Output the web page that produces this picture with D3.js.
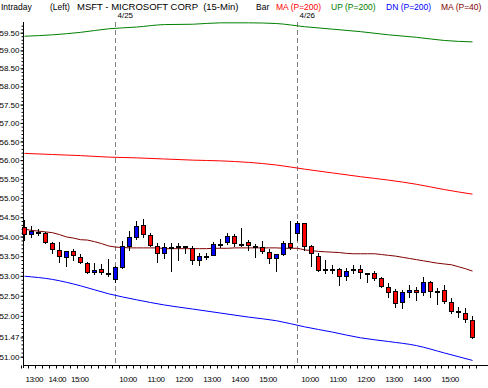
<!DOCTYPE html>
<html>
<head>
<meta charset="utf-8">
<script src="https://cdn.jsdelivr.net/npm/d3@7"></script>
<style>
body { margin: 0; background: #fff; }
svg { display: block; }
</style>
</head>
<body>
<svg id="chart" width="488" height="388"></svg>
<script>
// MSFT 15-min bars, 4/24 12:45 -> 4/26 15:45
var open  = [54.24,54.07,54.13,54.09,53.83,53.66,53.48,53.62,53.49,53.32,53.09,53.17,53.07,
             52.91,53.23,53.75,54.00,54.30,54.05,53.75,53.58,53.73,53.75,53.76,53.71,53.41,53.51,53.53,53.82,53.85,54.02,53.82,53.85,53.76,53.73,53.61,53.44,53.55,53.83,
             54.09,54.35,53.75,53.51,53.17,53.17,53.17,53.00,53.17,53.17,53.07,53.07,52.94,52.72,52.61,52.34,52.59,52.65,52.59,52.84,52.63,52.65,52.34,52.13,52.06,51.90];
var high  = [54.43,54.26,54.20,54.12,53.87,53.86,53.63,53.68,53.55,53.35,53.32,53.30,53.42,
             53.24,53.89,54.15,54.39,54.45,54.10,53.83,53.83,53.83,53.83,53.77,53.75,53.58,53.59,53.85,53.95,54.08,54.06,54.22,53.90,53.82,53.89,53.68,53.55,53.89,54.39,
             54.39,54.36,53.79,53.58,53.40,53.28,53.21,53.21,53.28,53.28,53.08,53.11,52.98,52.81,52.68,52.65,52.77,52.73,52.96,52.88,52.69,52.77,52.44,52.21,52.19,52.00];
var low   = [53.91,54.00,54.05,53.83,53.58,53.36,53.24,53.40,53.32,53.06,53.05,53.05,53.00,
             52.85,53.19,53.66,53.94,54.00,53.76,53.36,53.46,53.12,53.39,53.58,53.30,53.28,53.42,53.52,53.74,53.80,53.75,53.77,53.66,53.49,53.58,53.32,53.12,53.53,53.68,
             53.90,53.66,53.25,53.11,53.07,53.07,52.77,52.89,53.08,52.94,52.85,52.89,52.72,52.47,52.23,52.20,52.48,52.40,52.52,52.48,52.30,52.32,52.06,51.98,51.86,51.45];
var close = [54.07,54.15,54.13,53.86,53.68,53.51,53.62,53.53,53.35,53.09,53.15,53.09,53.06,
             53.22,53.75,53.99,54.28,54.07,53.79,53.58,53.73,53.73,53.75,53.74,53.39,53.51,53.51,53.81,53.82,54.01,53.83,53.82,53.78,53.76,53.62,53.45,53.55,53.83,53.72,
             54.35,53.77,53.58,53.15,53.17,53.17,53.00,53.12,53.17,53.09,53.07,52.94,52.75,52.59,52.32,52.59,52.65,52.59,52.84,52.61,52.63,52.36,52.12,52.13,51.92,51.47];

// MA (P=40), one value per bar
var ma40 = [54.19,54.16,54.14,54.12,54.10,54.05,53.99,53.96,53.92,53.91,53.87,53.82,53.76,
            53.73,53.72,53.71,53.71,53.71,53.71,53.71,53.69,53.69,53.69,53.69,53.69,53.69,53.69,53.70,53.70,53.70,53.71,53.71,53.71,53.71,53.71,53.71,53.71,53.70,53.70,
            53.70,53.66,53.64,53.62,53.61,53.60,53.59,53.57,53.56,53.56,53.56,53.56,53.54,53.52,53.50,53.47,53.44,53.41,53.38,53.35,53.32,53.30,53.28,53.23,53.18,53.12];

// P=200 lines, read every 4th bar
var bandBars = [0,4,8,12,16,20,24,28,32,36,40,44,48,52,56,60,64];
var ma200  = [56.18,56.15,56.12,56.08,56.06,56.03,56.00,55.98,55.94,55.87,55.76,55.66,55.56,55.47,55.36,55.22,55.10];
var upBand = [59.40,59.44,59.51,59.61,59.66,59.73,59.74,59.78,59.78,59.76,59.67,59.60,59.53,59.44,59.37,59.28,59.24];
var dnBand = [52.99,52.91,52.75,52.55,52.40,52.27,52.17,52.07,51.97,51.88,51.73,51.60,51.46,51.37,51.27,51.09,50.91];

var dayStart = [13, 39];
var dayLabels = ['4/25', '4/26'];
var timeLabels = ['13:00','14:00','15:00','10:00','11:00','12:00','13:00','14:00','15:00','10:00','11:00','12:00','13:00','14:00','15:00'];
var timeBars = [1.6, 4.9, 8.1, 15, 19, 23, 27, 31, 35, 41, 45, 49, 53, 57, 61];
var priceTicks = [59.5,59,58.5,58,57.5,57,56.5,56,55.5,55,54.5,54,53.5,53,52.5,52,51.47,51];

var legend = ['MA (P=200)', 'UP (P=200)', 'DN (P=200)', 'MA (P=40)'];

var font = '"Liberation Sans", Arial, sans-serif';
var colors = {up: '#0000ff', down: '#ff0000', ma200: '#ff0000', upBand: '#008000', dnBand: '#0000ff', ma40: '#800000'};
var legendColors = [colors.ma200, colors.upBand, colors.dnBand, colors.ma40];

var svg = d3.select('#chart').
    attr('font-family', font);

var x = d3.scaleLinear().
    domain([0, 64]).
    range([24.5, 472.5]);
var y = d3.scaleLog().
    domain([51, 59.5]).
    range([356.7, 32.7]);

// header
var header = svg.append('g').
    attr('font-size', 8.5).
    attr('fill', '#000');
header.append('text').attr('x', 1).attr('y', 10).text('Intraday');
header.append('text').attr('x', 50).attr('y', 10).text('(Left)');
header.append('text').attr('x', 77).attr('y', 10).attr('font-size', 9.5).attr('xml:space', 'preserve').text('MSFT - MICROSOFT CORP  (15-Min)');
header.append('text').attr('x', 256).attr('y', 10).text('Bar');
var legendX = [276, 331, 386, 441];
legend.forEach(function(name, i) {
    header.append('text').attr('x', legendX[i]).attr('y', 10).attr('fill', legendColors[i]).text(name);
});

// y axis: minor ticks every 0.10, labelled major ticks
svg.append('g').
    attr('transform', 'translate(23.5,0)').
    call(d3.axisLeft(y).tickValues(d3.range(510, 598).map(function(v) { return v / 10; })).tickSize(2).tickFormat('')).
    call(function(g) { g.select('.domain').remove(); });
var yAxis = svg.append('g').
    attr('transform', 'translate(23.5,0)').
    call(d3.axisLeft(y).tickValues(priceTicks).tickSize(3).tickPadding(1).tickFormat(d3.format('.2f')));
yAxis.select('.domain').remove();
yAxis.attr('font-family', font).attr('font-size', 8);
yAxis.selectAll('text').attr('fill', '#000');

svg.append('line').
    attr('x1', 23.5).attr('x2', 23.5).
    attr('y1', 22).attr('y2', 368).
    attr('stroke', '#000');

// x axis
var xTicks = svg.append('g').
    attr('transform', 'translate(0,365.5)').
    call(d3.axisBottom(x).tickValues(d3.range(-0.5, 65, 1)).tickSize(3).tickFormat(''));
xTicks.select('.domain').remove();
svg.append('line').
    attr('x1', 23.5).attr('x2', 488).
    attr('y1', 365.5).attr('y2', 365.5).
    attr('stroke', '#000');
var xLabels = svg.append('g').
    attr('transform', 'translate(0,365.5)').
    call(d3.axisBottom(x).tickValues(timeBars).tickSize(0).tickPadding(11).
         tickFormat(function(d) { return timeLabels[timeBars.indexOf(d)]; }));
xLabels.select('.domain').remove();
xLabels.attr('font-family', font).attr('font-size', 8);
xLabels.selectAll('text').attr('dx', -2).attr('letter-spacing', -0.5).attr('fill', '#000');

// day separators
svg.selectAll('line.sep').
    data(dayStart).
    enter().
    append('line').
    attr('class', 'sep').
    attr('x1', function(d) { return x(d); }).
    attr('x2', function(d) { return x(d); }).
    attr('y1', 22).attr('y2', 365).
    attr('stroke', '#808080').
    attr('stroke-dasharray', '5,3');
svg.selectAll('text.day').
    data(dayStart).
    enter().
    append('text').
    attr('class', 'day').
    attr('x', function(d) { return x(d) + 2; }).
    attr('y', 18).
    attr('font-size', 8).
    text(function(d, i) { return dayLabels[i]; });

// indicator lines
var smooth = d3.line().
    x(function(d) { return x(d[0]); }).
    y(function(d) { return y(d[1]); }).
    curve(d3.curveMonotoneX);
function bandPoints(vals) {
    return bandBars.map(function(b, i) { return [b, vals[i]]; });
}
[[ma200, colors.ma200], [upBand, colors.upBand], [dnBand, colors.dnBand]].forEach(function(s) {
    svg.append('path').
        attr('d', smooth(bandPoints(s[0]))).
        attr('fill', 'none').
        attr('stroke', s[1]).
        attr('stroke-width', 1);
});
svg.append('path').
    attr('d', d3.line().
         x(function(d, i) { return x(i); }).
         y(function(d) { return y(d); })(ma40)).
    attr('fill', 'none').
    attr('stroke', colors.ma40).
    attr('stroke-width', 1);

// candles
var bars = d3.range(open.length);
var candle = svg.selectAll('g.candle').
    data(bars).
    enter().
    append('g').
    attr('class', 'candle');
candle.append('line').
    attr('x1', function(i) { return x(i); }).
    attr('x2', function(i) { return x(i); }).
    attr('y1', function(i) { return Math.round(y(high[i])); }).
    attr('y2', function(i) { return Math.round(y(low[i])) + 1; }).
    attr('stroke', '#000');
candle.append('rect').
    attr('x', function(i) { return x(i) - 2; }).
    attr('width', 4).
    attr('y', function(i) { return Math.round(y(Math.max(open[i], close[i]))) + 0.5; }).
    attr('height', function(i) {
        return Math.max(1, Math.round(y(Math.min(open[i], close[i]))) - Math.round(y(Math.max(open[i], close[i]))));
    }).
    attr('fill', function(i) {
        if (Math.abs(open[i] - close[i]) < 0.005) return '#000';
        return close[i] > open[i] ? colors.up : colors.down;
    }).
    attr('stroke', '#000');
</script>
</body>
</html>
